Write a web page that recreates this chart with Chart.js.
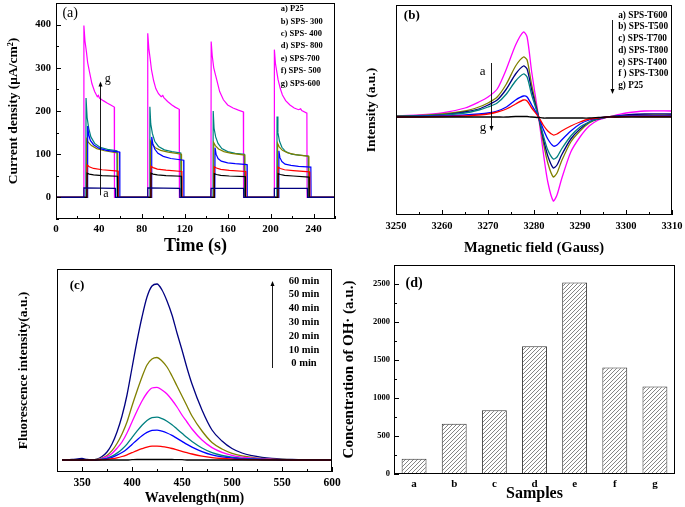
<!DOCTYPE html>
<html>
<head>
<meta charset="utf-8">
<script src="https://cdn.jsdelivr.net/npm/chart.js@4.4.1/dist/chart.umd.min.js"></script>
<style>
  body { margin: 0; background: #fff; width: 685px; height: 507px; position: relative; overflow: hidden; }
  canvas { position: absolute; }
</style>
</head>
<body>
<canvas id="pa" width="342" height="255" style="left:0;top:0"></canvas>
<canvas id="pb" width="343" height="255" style="left:342px;top:0"></canvas>
<canvas id="pc" width="342" height="252" style="left:0;top:255px"></canvas>
<canvas id="pd" width="347" height="252" style="left:338px;top:255px"></canvas>
<script>
// ---- (a) photocurrent, [time s, current uA/cm2] ----
const TIME_TICKS = [0, 40, 80, 120, 160, 200, 240];
const TIME_MINOR = [20, 60, 100, 140, 180, 220, 260];
const CURRENT_TICKS = [0, 100, 200, 300, 400];
const CURRENT_MINOR = [-50, 50, 150, 250, 350];

const p25 = [[0,0],[25.8,0],[26,22],[55.3,21],[55.5,0],[85.3,0],[85.5,22],[115.3,21],[115.5,0],[144.3,0],[144.5,21],[174.8,21],[175,0],[203.3,0],[203.5,21],[234.3,21],[234.5,0],[260,0]];
const sps300 = [[0,0],[28.8,0],[29,56],[31,54],[35,52],[43,50.5],[57.3,49],[57.5,0],[88.3,0],[88.5,56],[90.5,54],[94.5,52],[102.5,50.5],[116.8,49],[117,0],[147.3,0],[147.5,55],[149.5,53],[153.5,51],[161.5,49.5],[176.3,48],[176.5,0],[206.8,0],[207,55],[209,53],[213,51],[221,49.5],[235.8,47],[236,0],[260,0]];
const sps400 = [[0,0],[28.8,0],[29,75],[31,71],[35,67],[43,64],[57.8,61],[58,0],[88.3,0],[88.5,72],[90.5,69],[94.5,65.5],[102.5,63],[117.3,60],[117.5,0],[147.3,0],[147.5,71],[149.5,68],[153.5,65],[161.5,62.5],[176.8,60],[177,0],[206.8,0],[207,70],[209,67],[213,64],[221,62],[236.3,59],[236.5,0],[260,0]];
const sps800 = [[0,0],[29.3,0],[29.5,165],[30.5,145],[32,132],[35,122],[40,114],[47,109],[59.3,105],[59.5,0],[89,0],[89.2,140],[90.2,125],[92,112],[95,102],[100,95],[107,90],[119,86],[119.2,0],[148,0],[148.2,115],[149.2,100],[151,90],[154,84],[160,80],[167,78],[178,76],[178.2,0],[207.5,0],[207.7,108],[208.7,92],[210.5,83],[213.5,77],[219,74],[226,72],[237.5,70],[237.7,0],[260,0]];
const sps700 = [[0,0],[28.3,0],[28.5,135],[30,128],[33,120],[38,113],[45,108],[57.3,103],[57.5,0],[87.8,0],[88,130],[89.5,123],[92.5,115],[97.5,109],[104.5,105],[116.8,100],[117,0],[146.8,0],[147,127],[148.5,120],[151.5,112],[156.5,106],[163.5,102],[176,98],[176.2,0],[206.3,0],[206.5,125],[208,117],[211,109],[216,103],[223,99],[235.5,95],[235.7,0],[260,0]];
const sps500 = [[0,0],[27.8,0],[28,230],[29,185],[30.5,160],[32.5,140],[36,125],[41,116],[48,111],[56.8,108],[57,0],[87.3,0],[87.5,210],[88.3,170],[89.8,148],[92,130],[95.5,118],[101,110],[108,106],[116.3,103],[116.5,0],[146.3,0],[146.5,200],[147.3,160],[148.8,140],[151,125],[154.5,113],[160,106],[167,102],[175.5,100],[175.7,0],[205.8,0],[206,187],[206.8,150],[208.3,130],[210.5,116],[214,106],[219.5,100],[226.5,98],[235,96],[235.2,0],[260,0]];
const sps600 = [[0,0],[25.8,0],[26,398],[27,362],[28.3,338],[29.5,312],[31.4,288],[33.5,263],[36,245],[38.5,233],[39.5,236],[40.5,230],[44,224],[48,218],[51,214],[54.3,209],[54.5,0],[85.3,0],[85.5,380],[86.5,345],[87.8,320],[89,295],[91,270],[93,252],[95.5,240],[98,233],[99.5,236],[100.5,231],[104,222],[108,214],[111,209],[114.8,204],[115,0],[144.4,0],[144.6,361],[145.6,328],[147,300],[148.5,285],[149.8,272],[152.5,245],[156,226],[160,214],[165,207],[170,202],[174.6,198],[174.8,0],[203.3,0],[203.5,342],[204.5,310],[205.8,290],[207,272],[209,252],[211,237],[214,224],[218,214],[222,207],[226,203],[228,205],[229,201],[233.8,195],[234,0],[260,0]];

// ---- (b) EPR spectra ----
const FIELD = [3250,3255,3260,3265,3268,3270,3272,3274,3276,3277.7,3278.5,3279.5,3281,3282,3283,3284.2,3285,3286,3288,3290,3292,3294,3296,3298,3300,3304,3310];
const FIELD_TICKS = [3250,3260,3270,3280,3290,3300,3310];
const FIELD_MINOR = [3255,3265,3275,3285,3295,3305];
const eprT600 = [1,2,4,9,15,20,28,48,72,85,80,45,0,-35,-65,-84,-78,-62,-35,-20,-9,-3,0,2,4,6,6];
const eprT500 = [1,1.5,3,6,10,14,20,33,51,60,57,32,0,-25,-46,-60,-56,-44,-25,-14,-6,-2,0,1,1.5,2,2];
const eprT700 = [0.5,1,2,5,8,12,17,28,43,51,48,27,0,-21,-39,-51,-48,-38,-22,-12,-5,-2,0,1,2,3,3];
const eprT800 = [0.5,1,2,4,7,10,14,23,36,43,40,22,0,-18,-33,-42,-40,-32,-19,-10,-5,-1.5,0,0.5,1,1,1];
const eprT400 = [0,0.5,1,2,3,4,6,10,17,21,20,12,0,-12,-22,-29,-28,-23,-14,-7,-3,-1,0,0.5,1,1,1];
const eprT300 = [0,0,0.5,1,2,3,5,8,13,17,16,9,0,-8,-14,-18,-17,-14,-9,-5,-2,-1,0,0,0.5,0.5,0.5];
const eprP25 = [0,0,0,0,0,0,0,0,0.5,0.5,0.5,0,-0.5,-1,-1,-1,-1,-1,-1,-1,-1,-0.5,0,0,0,0,0];

// ---- (c) fluorescence spectra ----
const WL = [330,340,350,355,360,365,370,375,380,385,390,395,400,405,410,415,420,425,430,435,440,445,450,455,460,470,480,490,500,510,520,530,540,550,560,580,600];
const WL_TICKS = [350,400,450,500,550,600];
const WL_MINOR = [375,425,475,525,575];
const fl60 = [0,0.5,1.5,0.5,0.3,1,3.5,8,16,28,44,65,92,119,143,163,174,176,170,159,145,127,110,92,76,50,30,19,11.5,7,4.4,2.7,1.6,0.9,0.5,0.2,0];
const fl50 = [0,0,0,0,0,0.5,2,4.6,9.3,16.5,26,38,54,69,83,95,101,102.5,99,93,84,74,64,54,44,29,17.5,11,6.7,4.1,2.6,1.5,0.9,0.5,0.3,0.1,0];
const fl40 = [0,0,0,0,0,0.4,1.5,3.3,6.6,11.7,18,27,38,49,59,67,72,72.6,70,66,60,53,45,38,31,20,12.4,7.7,4.7,2.9,1.8,1.1,0.7,0.4,0.2,0.1,0];
const fl30 = [0,0,0,0,0,0.2,0.9,1.9,3.9,6.9,10.8,15.9,22.4,28.8,34.8,39.6,42.4,42.8,41.3,38.7,35.3,31,26.7,22.4,18.5,12,7.3,4.5,2.8,1.7,1.1,0.6,0.4,0.2,0.1,0,0];
const fl20 = [0,0,0,0,0,0.2,0.6,1.4,2.7,4.8,7.5,11.1,15.6,20.1,24.3,27.6,29.6,29.9,28.8,27,24.6,21.6,18.6,15.6,12.9,8.4,5.1,3.2,2,1.2,0.8,0.5,0.3,0.2,0.1,0,0];
const fl10 = [0,0,0,0,0,0.1,0.3,0.6,1.3,2.2,3.5,5.2,7.3,9.4,11.3,12.9,13.8,13.9,13.4,12.6,11.5,10.1,8.7,7.3,6,3.9,2.4,1.5,0.9,0.6,0.4,0.2,0.1,0.1,0,0,0];
const fl0 = [0,0,0,0,0,0,0,0,0,0,0,0,0.3,0.5,0.5,0.5,0.5,0.5,0.5,0.5,0.5,0.3,0.3,0,0,0,0,0,0,0,0,0,0,0,0,0,0];

// ---- (d) OH radical concentration ----
const SAMPLES = ['a','b','c','d','e','f','g'];
const OH_CONC = [200, 660, 840, 1680, 2520, 1400, 1150];
const OH_TICKS = [0, 500, 1000, 1500, 2000, 2500];
const OH_MINOR = [250, 750, 1250, 1750, 2250, 2750];

const FONT = '"Liberation Serif", "Times New Roman", serif';
Chart.defaults.font.family = FONT;
Chart.defaults.font.weight = 'bold';
Chart.defaults.color = '#000';
Chart.defaults.animation = false;

// frame, inward ticks, in-plot labels and arrows
const framePlugin = {
  id: 'frame',
  afterDatasetsDraw(chart, args, o) {
    const {ctx, chartArea: a, scales} = chart;
    ctx.save();
    ctx.strokeStyle = '#000';
    ctx.fillStyle = '#000';
    ctx.lineWidth = 1;
    ctx.strokeRect(a.left + 0.5, a.top + 0.5, a.width - 1, a.height - 1);
    const xt = (vals, len) => (vals || []).forEach(v => {
      const p = Math.round(scales.x.getPixelForValue(v)) + 0.5;
      ctx.beginPath(); ctx.moveTo(p, a.bottom); ctx.lineTo(p, a.bottom - len); ctx.stroke();
    });
    const yt = (vals, len) => (vals || []).forEach(v => {
      const p = Math.round(scales.y.getPixelForValue(v)) + 0.5;
      ctx.beginPath(); ctx.moveTo(a.left, p); ctx.lineTo(a.left + len, p); ctx.stroke();
    });
    xt(o.xMajor, 5); xt(o.xMinor, 3);
    yt(o.yMajor, 5); yt(o.yMinor, 3);
    (o.arrows || []).forEach(ar => {
      const x = Math.round(scales.x.getPixelForValue(ar.x)) + 0.5;
      const y1 = scales.y.getPixelForValue(ar.y1);
      const y2 = scales.y.getPixelForValue(ar.y2);
      const d = y2 > y1 ? 1 : -1;
      ctx.lineWidth = 0.9;
      ctx.beginPath(); ctx.moveTo(x, y1); ctx.lineTo(x, y2 - d * 3); ctx.stroke();
      ctx.beginPath(); ctx.moveTo(x, y2); ctx.lineTo(x - 2, y2 - d * 5); ctx.lineTo(x + 2, y2 - d * 5); ctx.closePath(); ctx.fill();
    });
    (o.texts || []).forEach(t => {
      ctx.font = (t.bold ? 'bold ' : '') + t.size + 'px ' + FONT;
      ctx.textAlign = t.align || 'left';
      ctx.textBaseline = 'middle';
      ctx.fillText(t.text, scales.x.getPixelForValue(t.x), scales.y.getPixelForValue(t.y));
    });
    ctx.restore();
  }
};

const fixY = w => s => { s.width = w; s.paddingTop = 0; s.paddingBottom = 0; };
const fixX = h => s => { s.height = h; s.paddingLeft = 0; s.paddingRight = 0; };
const setTicks = vals => s => { s.ticks = vals.map(v => ({value: v})); };
const pairs = arr => arr.map(([x, y]) => ({x, y}));
const zip = (xs, ys) => xs.map((x, i) => ({x, y: ys[i]}));
const line = (data, color, w) => ({data, borderColor: color, borderWidth: w || 1.2, pointRadius: 0, fill: false});
const basePlugins = extra => Object.assign({legend: {display: false}, tooltip: {enabled: false}}, extra);
const noGrid = {display: false, drawTicks: false};

// (a)
new Chart(document.getElementById('pa'), {
  type: 'line',
  data: {datasets: [
    line(pairs(p25), '#000080'),
    line(pairs(sps300), '#000000'),
    line(pairs(sps400), '#ff0000'),
    line(pairs(sps800), '#0000ff'),
    line(pairs(sps700), '#808000'),
    line(pairs(sps500), '#008080'),
    line(pairs(sps600), '#ff00ff')
  ]},
  options: {
    responsive: false,
    layout: {padding: {left: 0, top: 3, right: 7, bottom: 0}},
    elements: {line: {tension: 0}},
    scales: {
      x: {type: 'linear', min: 0, max: 260, grid: noGrid, border: {display: false},
          afterBuildTicks: setTicks(TIME_TICKS), afterFit: fixX(36),
          ticks: {padding: 4, font: {size: 11}, callback: v => v, maxRotation: 0},
          title: {display: true, text: 'Time (s)', font: {size: 18, lineHeight: 1}, padding: 0}},
      y: {type: 'linear', min: -50, max: 450, grid: noGrid, border: {display: false},
          afterBuildTicks: setTicks(CURRENT_TICKS), afterFit: fixY(56),
          ticks: {padding: 5, font: {size: 10.5}, callback: v => v},
          title: {display: true, text: 'Current density (\u03bcA/cm\u00b2)', font: {size: 13.5}, padding: {top: 5, bottom: 0}}}
    },
    plugins: basePlugins({frame: {
      xMajor: TIME_TICKS, xMinor: TIME_MINOR, yMajor: CURRENT_TICKS, yMinor: CURRENT_MINOR,
      arrows: [{x: 41, y1: 5, y2: 268}],
      texts: [
        {x: 6, y: 425, text: '(a)', size: 14},
        {x: 45.5, y: 275, text: 'g', size: 12},
        {x: 44, y: 8, text: 'a', size: 12},
        {x: 209.5, y: 436, text: 'a) P25', size: 8.5, bold: true},
        {x: 209.5, y: 407, text: 'b) SPS- 300', size: 8.5, bold: true},
        {x: 209.5, y: 379, text: 'c) SPS- 400', size: 8.5, bold: true},
        {x: 209.5, y: 351, text: 'd) SPS- 800', size: 8.5, bold: true},
        {x: 209.5, y: 321, text: 'e) SPS-700', size: 8.5, bold: true},
        {x: 209.5, y: 293, text: 'f) SPS- 500', size: 8.5, bold: true},
        {x: 209.5, y: 263, text: 'g) SPS-600', size: 8.5, bold: true}
      ]
    }})
  },
  plugins: [framePlugin]
});

// (b)
new Chart(document.getElementById('pb'), {
  type: 'line',
  data: {datasets: [
    line(zip(FIELD, eprP25), '#000000', 1.3),
    line(zip(FIELD, eprT300), '#ff0000', 1.3),
    line(zip(FIELD, eprT400), '#0000ff', 1.3),
    line(zip(FIELD, eprT800), '#008080', 1.3),
    line(zip(FIELD, eprT700), '#000080', 1.3),
    line(zip(FIELD, eprT500), '#808000', 1.3),
    line(zip(FIELD, eprT600), '#ff00ff', 1.3)
  ]},
  options: {
    responsive: false,
    layout: {padding: {left: 0, top: 5, right: 13, bottom: 0}},
    elements: {line: {tension: 0.25}},
    scales: {
      x: {type: 'linear', min: 3250, max: 3310, grid: noGrid, border: {display: false},
          afterBuildTicks: setTicks(FIELD_TICKS), afterFit: fixX(40),
          ticks: {padding: 5, font: {size: 10.5}, callback: v => v, maxRotation: 0},
          title: {display: true, text: 'Magnetic field (Gauss)', font: {size: 14.5, lineHeight: 1}, padding: 0}},
      y: {type: 'linear', min: -98, max: 112, grid: noGrid, border: {display: false},
          afterFit: fixY(54), ticks: {display: false},
          title: {display: true, text: 'Intensity (a.u.)', font: {size: 13.5}, padding: {top: 21, bottom: 0}}}
    },
    plugins: basePlugins({frame: {
      xMajor: FIELD_TICKS, xMinor: FIELD_MINOR,
      arrows: [{x: 3270.6, y1: 54, y2: -14}, {x: 3297, y1: 97, y2: 23}],
      texts: [
        {x: 3251.7, y: 101, text: '(b)', size: 13, bold: true},
        {x: 3268.2, y: 45, text: 'a', size: 13},
        {x: 3268.2, y: -11, text: 'g', size: 13},
        {x: 3298.3, y: 101, text: 'a) SPS-T600', size: 9.3, bold: true},
        {x: 3298.3, y: 90, text: 'b) SPS-T500', size: 9.3, bold: true},
        {x: 3298.3, y: 78, text: 'c) SPS-T700', size: 9.3, bold: true},
        {x: 3298.3, y: 66, text: 'd) SPS-T800', size: 9.3, bold: true},
        {x: 3298.3, y: 54, text: 'e) SPS-T400', size: 9.3, bold: true},
        {x: 3298.3, y: 43, text: 'f ) SPS-T300', size: 9.3, bold: true},
        {x: 3298.3, y: 31, text: 'g) P25', size: 9.3, bold: true}
      ]
    }})
  },
  plugins: [framePlugin]
});

// (c)
new Chart(document.getElementById('pc'), {
  type: 'line',
  data: {datasets: [
    line(zip(WL, fl0), '#000000', 1.3),
    line(zip(WL, fl10), '#ff0000', 1.3),
    line(zip(WL, fl20), '#0000ff', 1.3),
    line(zip(WL, fl30), '#008080', 1.3),
    line(zip(WL, fl40), '#ff00ff', 1.3),
    line(zip(WL, fl50), '#808000', 1.3),
    line(zip(WL, fl60), '#000080', 1.3)
  ]},
  options: {
    responsive: false,
    layout: {padding: {left: 0, top: 14, right: 10, bottom: 0}},
    elements: {line: {cubicInterpolationMode: 'monotone'}},
    scales: {
      x: {type: 'linear', min: 325, max: 600, grid: noGrid, border: {display: false},
          afterBuildTicks: setTicks(WL_TICKS), afterFit: fixX(35),
          ticks: {padding: 4, font: {size: 11.5}, callback: v => v, maxRotation: 0},
          title: {display: true, text: 'Wavelength(nm)', font: {size: 14, lineHeight: 1}, padding: {bottom: 2}}},
      y: {type: 'linear', min: -12, max: 191, grid: noGrid, border: {display: false},
          afterFit: fixY(57), ticks: {display: false},
          title: {display: true, text: 'Fluorescence intensity(a.u.)', font: {size: 13.5}, padding: {top: 15, bottom: 0}}}
    },
    plugins: basePlugins({frame: {
      xMajor: WL_TICKS, xMinor: WL_MINOR,
      arrows: [{x: 540, y1: 92, y2: 179}],
      texts: [
        {x: 345, y: 174, text: '(c)', size: 13, bold: true, align: 'center'},
        {x: 572, y: 179, text: '60 min', size: 10.5, bold: true, align: 'center'},
        {x: 572, y: 166, text: '50 min', size: 10.5, bold: true, align: 'center'},
        {x: 572, y: 152, text: '40 min', size: 10.5, bold: true, align: 'center'},
        {x: 572, y: 138, text: '30 min', size: 10.5, bold: true, align: 'center'},
        {x: 572, y: 124, text: '20 min', size: 10.5, bold: true, align: 'center'},
        {x: 572, y: 110, text: '10 min', size: 10.5, bold: true, align: 'center'},
        {x: 572, y: 97, text: '0 min', size: 10.5, bold: true, align: 'center'}
      ]
    }})
  },
  plugins: [framePlugin]
});

// (d)
const hatch = (() => {
  const c = document.createElement('canvas');
  c.width = 4; c.height = 4;
  const g = c.getContext('2d');
  g.fillStyle = '#fff'; g.fillRect(0, 0, 4, 4);
  g.strokeStyle = '#666'; g.lineWidth = 0.8;
  g.beginPath();
  g.moveTo(0, 4); g.lineTo(4, 0);
  g.moveTo(-1, 1); g.lineTo(1, -1);
  g.moveTo(3, 5); g.lineTo(5, 3);
  g.stroke();
  return g.createPattern(c, 'repeat');
})();

new Chart(document.getElementById('pd'), {
  type: 'bar',
  data: {labels: SAMPLES, datasets: [{
    data: OH_CONC, backgroundColor: hatch, borderColor: '#333', borderWidth: 1,
    borderSkipped: false, barPercentage: 0.62, categoryPercentage: 1
  }]},
  options: {
    responsive: false,
    layout: {padding: {left: 0, top: 10, right: 10, bottom: 0}},
    scales: {
      x: {grid: noGrid, border: {display: false}, afterFit: fixX(33),
          ticks: {padding: 4, font: {size: 11}, maxRotation: 0},
          title: {display: true, text: 'Samples', font: {size: 16, lineHeight: 1}, padding: {bottom: 5}}},
      y: {type: 'linear', min: 0, max: 2750, grid: noGrid, border: {display: false},
          afterBuildTicks: setTicks(OH_TICKS), afterFit: fixY(56),
          ticks: {padding: 4, font: {size: 8.5}, callback: v => v},
          title: {display: true, text: 'Concentration of OH\u00b7 (a.u.)', font: {size: 15}, padding: {top: 2, bottom: 0}}}
    },
    plugins: basePlugins({frame: {
      yMajor: OH_TICKS, yMinor: OH_MINOR,
      texts: [{x: 0, y: 2510, text: '(d)', size: 14, bold: true, align: 'center'}]
    }})
  },
  plugins: [framePlugin]
});
</script>
</body>
</html>
